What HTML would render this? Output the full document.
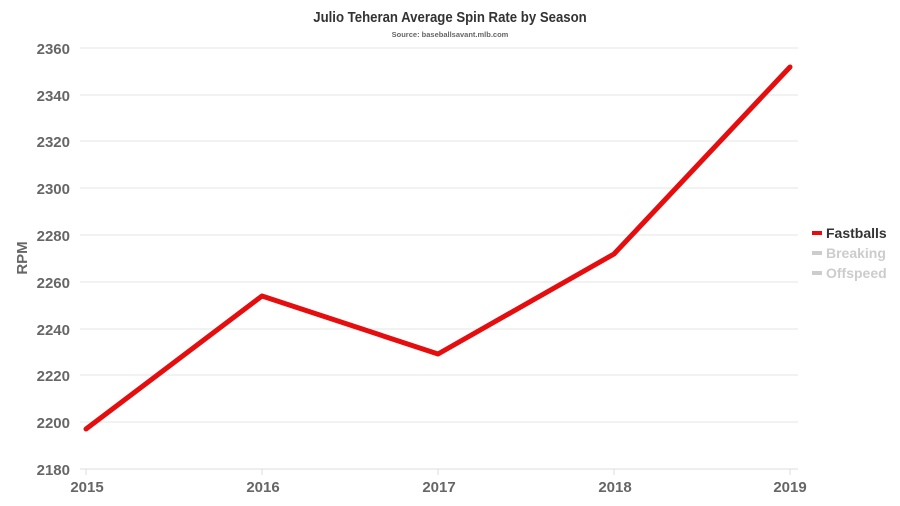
<!DOCTYPE html>
<html><head><style>
html,body{margin:0;padding:0;background:#fff;}
svg{display:block;font-family:"Liberation Sans",sans-serif;font-weight:bold;}
</style></head><body>
<svg width="900" height="506" viewBox="0 0 900 506">
<text x="450" y="22" text-anchor="middle" font-size="15" fill="#333" transform="translate(450,0) scale(0.88,1) translate(-450,0)">Julio Teheran Average Spin Rate by Season</text>
<text x="450" y="37" text-anchor="middle" font-size="7.5" fill="#666">Source: baseballsavant.mlb.com</text>
<g stroke="#e6e6e6" stroke-width="1">
<line x1="80" x2="798" y1="48" y2="48"/><line x1="80" x2="798" y1="95" y2="95"/>
<line x1="80" x2="798" y1="141" y2="141"/><line x1="80" x2="798" y1="188" y2="188"/>
<line x1="80" x2="798" y1="235" y2="235"/><line x1="80" x2="798" y1="282" y2="282"/>
<line x1="80" x2="798" y1="329" y2="329"/><line x1="80" x2="798" y1="375" y2="375"/>
<line x1="80" x2="798" y1="422" y2="422"/>
</g>
<line x1="80" x2="798" y1="469" y2="469" stroke="#ddd"/>
<g stroke="#ddd"><line x1="86" x2="86" y1="469" y2="475"/><line x1="262" x2="262" y1="469" y2="475"/><line x1="438" x2="438" y1="469" y2="475"/><line x1="614" x2="614" y1="469" y2="475"/><line x1="790" x2="790" y1="469" y2="475"/></g>
<g font-size="15" fill="#666" text-anchor="end">
<text x="70" y="54">2360</text><text x="70" y="101">2340</text><text x="70" y="147">2320</text>
<text x="70" y="194">2300</text><text x="70" y="241">2280</text><text x="70" y="288">2260</text>
<text x="70" y="335">2240</text><text x="70" y="381">2220</text><text x="70" y="428">2200</text>
<text x="70" y="475">2180</text>
</g>
<g font-size="15" fill="#666" text-anchor="middle">
<text x="87" y="492">2015</text><text x="263" y="492">2016</text><text x="439" y="492">2017</text>
<text x="615" y="492">2018</text><text x="790" y="492">2019</text>
</g>
<text transform="translate(27,258) rotate(-90)" text-anchor="middle" font-size="15" fill="#666">RPM</text>
<polyline points="86,429 262,296 438,354 614,254 790,67" fill="none" stroke="#e50d0d" stroke-width="5" stroke-linejoin="round" stroke-linecap="round"/>
<rect x="812" y="231" width="10" height="4" fill="#e50d0d"/>
<text x="826" y="238" font-size="14" fill="#333">Fastballs</text>
<rect x="812" y="251" width="10" height="4" fill="#ccc"/>
<text x="826" y="258" font-size="14" fill="#ccc">Breaking</text>
<rect x="812" y="271" width="10" height="4" fill="#ccc"/>
<text x="826" y="278" font-size="14" fill="#ccc">Offspeed</text>
</svg>
</body></html>
